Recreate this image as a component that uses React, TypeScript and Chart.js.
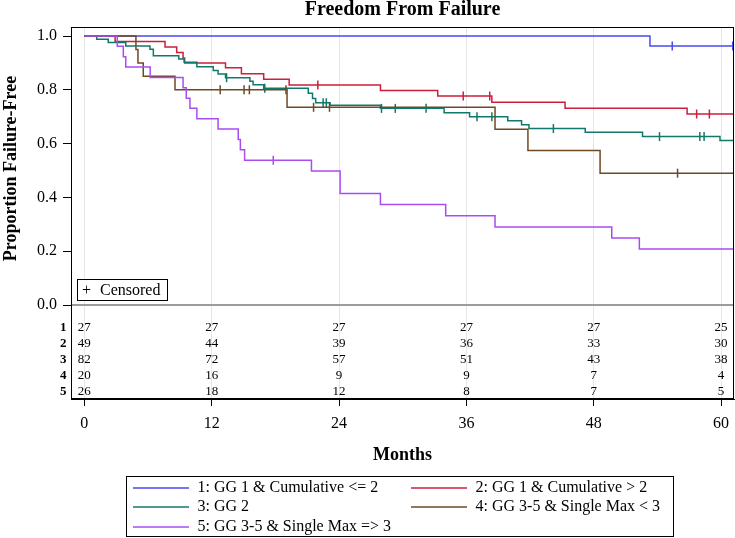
import React, { useEffect, useRef } from 'react';
import { Chart, registerables } from 'chart.js';

Chart.register(...registerables);

const FONT = "'Liberation Serif', 'Times New Roman', serif";

const TITLE = 'Freedom From Failure';
const Y_TITLE = 'Proportion Failure-Free';
const X_TITLE = 'Months';
const CENSOR_LABEL = 'Censored';

const groupLabels = [
  '1: GG 1 & Cumulative <= 2',
  '2: GG 1 & Cumulative > 2',
  '3: GG 2',
  '4: GG 3-5 & Single Max < 3',
  '5: GG 3-5 & Single Max => 3',
];
const groupColors = ['#4a4af2', '#cc1f3a', '#11796b', '#6e4a24', '#a94cf2'];
const rowLabels = ['1', '2', '3', '4', '5'];

const xTicks = [0, 12, 24, 36, 48, 60];
const yTicks = [0, 0.2, 0.4, 0.6, 0.8, 1.0];

// Kaplan-Meier step curves (event times, survival after event)
const g1Times = [0, 53.3, 61.3];
const g1Surv = [1, 0.963, 0.963];
const g1Censor = [55.4, 61.1];

const g2Times = [0, 2.9, 7.6, 8.7, 9.3, 9.45, 13.3, 14.8, 16.9, 19.3, 27.9, 33.3, 38.4, 45.3, 56.8, 61.3];
const g2Surv = [1, 0.98, 0.959, 0.939, 0.918, 0.9, 0.882, 0.86, 0.839, 0.818, 0.797, 0.777, 0.754, 0.731, 0.71, 0.71];
const g2Censor = [22.0, 35.7, 38.2, 57.7, 58.9];

const g3Times = [0, 1.16, 2.25, 3.9, 6.18, 6.5, 8.9, 9.4, 10.6, 12.15, 12.6, 13.3, 15.6, 15.9, 16.9, 21.1, 21.5, 21.8, 23.15, 27.9, 33.9, 36.3, 39.9, 41.2, 41.9, 47.2, 52.6, 59.9, 61.3];
const g3Surv = [1, 0.988, 0.976, 0.963, 0.951, 0.927, 0.915, 0.902, 0.886, 0.872, 0.859, 0.845, 0.832, 0.819, 0.806, 0.787, 0.768, 0.752, 0.743, 0.731, 0.715, 0.7, 0.685, 0.67, 0.656, 0.642, 0.626, 0.612, 0.612];
const g3Censor = [13.4, 17.0, 22.5, 22.8, 28.0, 29.3, 32.2, 37.0, 38.4, 44.2, 54.2, 58.0, 58.4];

const g4Times = [0, 4.86, 5.05, 5.55, 8.54, 19.1, 38.7, 41.8, 48.6, 61.3];
const g4Surv = [1, 0.95, 0.9, 0.85, 0.8, 0.735, 0.653, 0.574, 0.49, 0.49];
const g4Censor = [12.8, 15.05, 15.55, 19.0, 21.6, 23.1, 55.9];

const g5Times = [0, 3.1, 3.67, 3.9, 6.2, 9.3, 9.6, 9.95, 10.6, 12.6, 14.5, 14.7, 15.1, 21.4, 24.1, 27.9, 34.05, 38.7, 49.7, 52.3, 61.3];
const g5Surv = [1, 0.962, 0.923, 0.885, 0.846, 0.808, 0.769, 0.731, 0.692, 0.654, 0.615, 0.577, 0.538, 0.498, 0.415, 0.374, 0.332, 0.29, 0.249, 0.208, 0.208];
const g5Censor = [17.8];

// Numbers at risk
const riskTimes = [0, 12, 24, 36, 48, 60];
const risk1 = [27, 27, 27, 27, 27, 25];
const risk2 = [49, 44, 39, 36, 33, 30];
const risk3 = [82, 72, 57, 51, 43, 38];
const risk4 = [20, 16, 9, 9, 7, 4];
const risk5 = [26, 18, 12, 8, 7, 5];

const groupTimes = [g1Times, g2Times, g3Times, g4Times, g5Times];
const groupSurv = [g1Surv, g2Surv, g3Surv, g4Surv, g5Surv];
const groupCensor = [g1Censor, g2Censor, g3Censor, g4Censor, g5Censor];
const riskRows = [risk1, risk2, risk3, risk4, risk5];

function survAt(times: number[], surv: number[], t: number) {
  let v = surv[0];
  for (let i = 0; i < times.length; i++) {
    if (times[i] <= t) v = surv[i];
  }
  return v;
}

const overlayPlugin = {
  id: 'kmOverlay',
  beforeDatasetsDraw(chart: any) {
    const { ctx, chartArea: a, scales } = chart;
    const y0 = scales.y.getPixelForValue(0);
    ctx.save();
    ctx.strokeStyle = '#9c9c9c';
    ctx.lineWidth = 2;
    ctx.beginPath();
    ctx.moveTo(a.left, y0);
    ctx.lineTo(a.right, y0);
    ctx.stroke();
    ctx.restore();
  },
  afterDraw(chart: any) {
    const { ctx, chartArea: a, scales } = chart;
    const xs = scales.x;
    const y0 = scales.y.getPixelForValue(0);
    const cx = (a.left + a.right) / 2;
    ctx.save();
    // plot frame
    ctx.strokeStyle = '#000';
    ctx.lineWidth = 1;
    ctx.strokeRect(a.left + 0.5, a.top + 0.5, a.right - a.left - 1, a.bottom - a.top - 1);

    ctx.fillStyle = '#000';
    // title
    ctx.font = `bold 20px ${FONT}`;
    ctx.textAlign = 'center';
    ctx.textBaseline = 'alphabetic';
    ctx.fillText(TITLE, cx, 15);

    // x title
    ctx.font = `bold 18px ${FONT}`;
    ctx.fillText(X_TITLE, cx, 460);

    // y title
    ctx.save();
    ctx.translate(16, (a.top + 9 + y0) / 2 - 2);
    ctx.rotate(-Math.PI / 2);
    ctx.font = `bold 18px ${FONT}`;
    ctx.textAlign = 'center';
    ctx.fillText(Y_TITLE, 0, 0);
    ctx.restore();

    // at-risk table
    ctx.textBaseline = 'middle';
    for (let r = 0; r < riskRows.length; r++) {
      const ry = y0 + 22.5 + 16 * r;
      ctx.font = `bold 13px ${FONT}`;
      ctx.textAlign = 'right';
      ctx.fillText(rowLabels[r], a.left - 4.5, ry);
      ctx.font = `13px ${FONT}`;
      ctx.textAlign = 'center';
      riskRows[r].forEach((n, j) => {
        ctx.fillText(String(n), xs.getPixelForValue(riskTimes[j]), ry);
      });
    }

    // censored inset legend
    const bx = a.left + 6.5;
    const by = y0 - 25.5;
    ctx.fillStyle = '#fff';
    ctx.fillRect(bx, by, 90, 21);
    ctx.strokeStyle = '#000';
    ctx.lineWidth = 1;
    ctx.strokeRect(bx, by, 90, 21);
    ctx.fillStyle = '#000';
    ctx.font = `16px ${FONT}`;
    ctx.textAlign = 'center';
    ctx.fillText('+', bx + 9, by + 11);
    ctx.textAlign = 'left';
    ctx.fillText(CENSOR_LABEL, bx + 22.5, by + 11.5);

    // group legend
    const lx = 126.5, ly = 476.5, lw = 547, lh = 60;
    ctx.strokeStyle = '#000';
    ctx.lineWidth = 1;
    ctx.strokeRect(lx, ly, lw, lh);
    const rowsY = [488, 507, 527];
    const colLine = [133, 411];
    ctx.font = `16px ${FONT}`;
    ctx.textAlign = 'left';
    ctx.textBaseline = 'middle';
    groupLabels.forEach((lab, i) => {
      const row = Math.floor(i / 2);
      const col = i % 2;
      const yy = rowsY[row];
      const x1 = colLine[col];
      ctx.strokeStyle = groupColors[i];
      ctx.lineWidth = 1.5;
      ctx.beginPath();
      ctx.moveTo(x1, yy);
      ctx.lineTo(x1 + 56, yy);
      ctx.stroke();
      ctx.fillStyle = '#000';
      ctx.fillText(lab, x1 + 64.5, yy);
    });
    ctx.restore();
  },
};

export default function App() {
  const ref = useRef<HTMLCanvasElement | null>(null);

  useEffect(() => {
    if (!ref.current) return;
    const datasets: any[] = [];
    for (let g = 0; g < 5; g++) {
      const times = groupTimes[g];
      const surv = groupSurv[g];
      datasets.push({
        label: groupLabels[g],
        data: times.map((t, i) => ({ x: t, y: surv[i] })),
        stepped: true,
        borderColor: groupColors[g],
        borderWidth: 1.5,
        pointRadius: 0,
        fill: false,
        order: 5 - g,
      });
      datasets.push({
        label: groupLabels[g] + ' censored',
        data: groupCensor[g].map((t) => ({ x: t, y: survAt(times, surv, t) })),
        showLine: false,
        pointStyle: 'line',
        rotation: 90,
        pointRadius: 4.5,
        pointBorderColor: groupColors[g],
        pointBackgroundColor: groupColors[g],
        pointBorderWidth: 1.5,
        borderColor: groupColors[g],
        order: 5 - g,
      });
    }

    const chart = new Chart(ref.current, {
      type: 'line',
      data: { datasets },
      options: {
        responsive: false,
        animation: false,
        events: [],
        layout: { autoPadding: false, padding: { top: 27, right: 1, left: 0, bottom: 0 } },
        plugins: {
          legend: { display: false },
          tooltip: { enabled: false },
          title: { display: false },
        },
        scales: {
          x: {
            type: 'linear',
            min: -1.26,
            max: 61.22,
            afterBuildTicks: (s: any) => {
              s.ticks = xTicks.map((v) => ({ value: v }));
            },
            afterFit: (s: any) => {
              s.height = 139;
              s.paddingLeft = 0;
              s.paddingRight = 0;
            },
            grid: {
              color: '#e6e6e6',
              lineWidth: 1,
              tickColor: '#000',
              tickLength: 7,
              drawOnChartArea: true,
            },
            border: { display: true, color: '#000', width: 1 },
            ticks: {
              font: { family: FONT, size: 16 },
              color: '#000',
              padding: 8,
              maxRotation: 0,
              autoSkip: false,
              callback: (v: any) => String(v),
            },
          },
          y: {
            type: 'linear',
            min: -0.3494,
            max: 1.0335,
            afterBuildTicks: (s: any) => {
              s.ticks = yTicks.map((v) => ({ value: v }));
            },
            afterFit: (s: any) => {
              s.width = 71;
              s.paddingTop = 0;
              s.paddingBottom = 0;
            },
            grid: { drawOnChartArea: false, tickColor: '#000', tickLength: 8 },
            border: { display: true, color: '#000', width: 1 },
            ticks: {
              font: { family: FONT, size: 16 },
              color: '#000',
              padding: 6,
              callback: (v: any) => Number(v).toFixed(1),
            },
          },
        },
      },
      plugins: [overlayPlugin],
    } as any);

    return () => chart.destroy();
  }, []);

  return (
    <div style={{ position: 'fixed', left: 0, top: 0, width: 735, height: 538, background: '#fff' }}>
      <canvas ref={ref} width={735} height={538} style={{ display: 'block' }} />
    </div>
  );
}
